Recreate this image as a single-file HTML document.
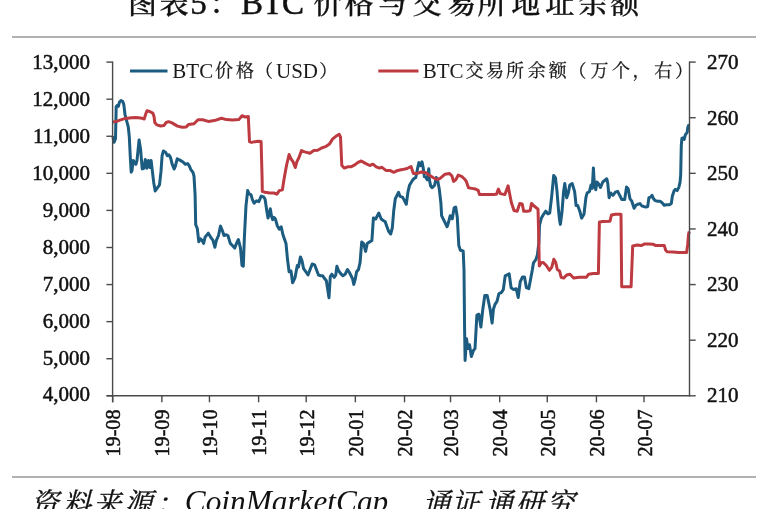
<!DOCTYPE html>
<html><head><meta charset="utf-8"><title>图表5：BTC价格与交易所地址余额</title>
<style>
html,body{margin:0;padding:0;background:#fff;}
body{width:769px;height:509px;overflow:hidden;position:relative;}
svg{position:absolute;left:0;top:0;}
</style></head><body>
<svg width="769" height="509" viewBox="0 0 769 509">
<rect x="0" y="0" width="769" height="509" fill="#ffffff"/>
<text font-size="33" fill="#111" stroke="#111" stroke-width="0.3">
<tspan x="128.0" y="13.8" font-family="Liberation Serif, Noto Serif CJK SC, serif" font-size="29" font-weight="500">图</tspan>
<tspan x="159.5" y="13.8" font-family="Liberation Serif, Noto Serif CJK SC, serif" font-size="29" font-weight="500">表</tspan>
<tspan x="190.2" y="13.5" font-family="Liberation Serif, serif" stroke-width="0.5">5</tspan>
<tspan x="209.4" y="13.8" font-family="Liberation Serif, Noto Serif CJK SC, serif" font-size="29" font-weight="500">：</tspan>
<tspan x="241.1" y="13.5" font-family="Liberation Serif, serif" stroke-width="0.5">B</tspan>
<tspan x="262.6" y="13.5" font-family="Liberation Serif, serif" stroke-width="0.5">T</tspan>
<tspan x="282.1" y="13.5" font-family="Liberation Serif, serif" stroke-width="0.5">C</tspan>
<tspan x="313.6" y="13.8" font-family="Liberation Serif, Noto Serif CJK SC, serif" font-size="29" font-weight="500">价</tspan>
<tspan x="344.6" y="13.8" font-family="Liberation Serif, Noto Serif CJK SC, serif" font-size="29" font-weight="500">格</tspan>
<tspan x="378.5" y="13.8" font-family="Liberation Serif, Noto Serif CJK SC, serif" font-size="29" font-weight="500">与</tspan>
<tspan x="412.6" y="13.8" font-family="Liberation Serif, Noto Serif CJK SC, serif" font-size="29" font-weight="500">交</tspan>
<tspan x="447.2" y="13.8" font-family="Liberation Serif, Noto Serif CJK SC, serif" font-size="29" font-weight="500">易</tspan>
<tspan x="477.5" y="13.8" font-family="Liberation Serif, Noto Serif CJK SC, serif" font-size="29" font-weight="500">所</tspan>
<tspan x="511.3" y="13.8" font-family="Liberation Serif, Noto Serif CJK SC, serif" font-size="29" font-weight="500">地</tspan>
<tspan x="545.2" y="13.8" font-family="Liberation Serif, Noto Serif CJK SC, serif" font-size="29" font-weight="500">址</tspan>
<tspan x="578.5" y="13.8" font-family="Liberation Serif, Noto Serif CJK SC, serif" font-size="29" font-weight="500">余</tspan>
<tspan x="610.2" y="13.8" font-family="Liberation Serif, Noto Serif CJK SC, serif" font-size="29" font-weight="500">额</tspan>
</text>
<line x1="12" y1="37" x2="756" y2="37" stroke="#b0b0b0" stroke-width="2"/>
<line x1="12" y1="477" x2="756" y2="477" stroke="#b0b0b0" stroke-width="2"/>
<polyline points="112.8,136 114,142.3 115.5,138.7 116.2,106.5 117.4,105.3 118.4,106.3 119.5,102 121,100.5 122.6,101.3 123.8,104.4 125,114.6 126.1,118.6 127.3,123.3 128.3,127 129.3,137 130.4,158.8 131.2,172.2 132,170.6 133.2,160.4 134.3,162 135.9,164.3 137,160.4 139.1,140 140.6,149.4 142.2,169 143.8,168.3 145.3,159.6 146.9,168.3 148.5,160.4 150,167.5 151.1,160.4 152.4,171.4 153.7,182.4 155.2,191 156.8,188.7 159.5,184.8 161,171.4 162.1,155.7 163.4,151 165.8,152.6 167.3,155.7 168.9,154.9 170.5,157.3 172,163.6 174.1,169 175.2,166.7 177.2,158.8 179.9,160.1 183,162 185.4,164.3 187.7,163.6 189.3,165.9 190.9,169.8 192.9,172.2 194,176.1 195.1,195 195.7,224.6 197.3,228.5 198.8,241.8 200.4,238.7 202,240.3 203.6,243.4 205.1,237.1 208.3,233.2 210.6,237.1 213,240.3 214.9,247.3 216.4,240.3 218.5,235.5 220.5,226.1 222.4,230.8 224,235.5 226.3,234.8 227.9,235.5 230.3,243.4 232.6,245.8 234.7,248.1 236.5,243.4 238.4,239.5 240.5,248.1 242,265.4 243.3,266.2 244.4,237.1 246,205.7 247.7,190.5 249.2,194 251,194.6 252.3,199.3 254.1,203.2 256.5,200.8 258.8,201.6 261.2,196.1 263.6,196.9 265.1,199.3 266.7,210.3 268,218.1 269.1,214.2 270.3,208.7 271.4,215.8 272.7,219.7 273.8,217.3 275.3,218.9 277.4,226 279.3,229.1 281.2,226.8 282.7,233.8 283.8,237.3 286,243.6 287.5,259.3 289.1,271.8 291,271 292.6,282.8 294.9,278.1 297.3,265.5 298.5,267.1 300.4,256.9 302,260.8 303.6,268.7 305.9,271.8 308,275 309.8,270.3 312.2,264 314.6,264.8 316.1,268.7 318.5,275 320.8,275.8 322.7,275.8 324.8,278.9 326.3,280.5 327.9,290.7 329,297.7 330.3,276.5 331.8,274.2 334.2,277.3 335.8,275 336.9,266.3 338.4,270.3 340.5,273.4 342.8,275.8 345.2,274.2 347.5,269.5 349.1,271.8 350.7,275 352.6,278.9 353.8,284.4 355.1,279.7 356.6,271.8 358.5,269.5 360.1,262.4 361.7,242 363.6,243.6 365.6,251.4 367.2,243.6 369.5,242 371.9,240.4 373.4,218 375.7,219 378.8,213 381.2,219 383.6,220.7 385.1,221.5 386.7,226 388.5,231 390.7,234 392.3,228 393.8,210 395.3,198.7 398.5,192.4 400,196.3 402.4,197.1 404.3,200.3 406.3,204.2 407.9,192.4 409.5,185.3 411.8,181.4 413.4,179.1 415.8,177.5 417.8,167.3 418.9,162.6 420.5,165.7 422,161.8 423.1,167.3 424.4,176.7 426,177.5 427.2,179.8 428.8,168.8 429.4,179.8 430.7,186.1 432.2,187.7 434.6,185.3 436.2,177.5 437.7,180.6 439.3,189.3 440.9,203 441.6,215.7 443.9,220.4 447.1,226.7 448.6,222 450.2,215.7 452.3,218.8 454.1,207.9 455.7,207.1 457.3,217.3 458.8,245.5 460.4,250.3 463.2,251 464,270 464.6,328.9 465.1,360.4 466.5,338.8 467.9,348.6 469.5,344.7 471.4,356.4 473.4,350.5 475,348.6 476.9,315.2 478.9,314.2 480.9,327 482.8,309.3 484.8,295.5 487.2,295.5 490.1,309.3 492.1,323 493.4,309.3 495,304.4 497,301.4 498.9,293.6 501.3,292.6 503.3,289.6 505.2,275.9 507.2,274.9 509.2,273.9 511.1,287.7 513.7,289.6 516.2,288.7 518.2,297.5 520.2,281.8 522.5,276.9 524.5,276.9 526.4,287.7 528.8,288.7 530.8,277.9 532.3,270 533.5,262.8 535.8,259.7 537.4,255 538.9,242.4 539.5,225 541.3,218.3 543.9,213.8 545.8,211.2 547.8,213.8 549.7,213.1 551.7,196.2 553.7,175.5 555.5,178 557,191.4 558.5,210 559.5,219.6 560.4,224.4 562,211.8 563.6,191.4 564.8,183.6 566.7,197.7 568.3,193 569.8,185.1 572.2,183.6 574.6,191.4 576.1,205.5 577.7,205.5 580,211.8 581.6,218.1 584,214.2 585.9,197.7 587.1,193 589.5,191.4 591,185.1 592.3,188.3 593.4,167.9 594.2,182 595.8,189.8 596.9,182 598.9,184.3 600.5,187.5 602.8,182 604.7,180.4 606.8,178.8 607.8,183.6 609.1,197.7 610.7,193 613,195.3 615.4,192.2 617.7,191.4 620.1,196.1 621.8,199.5 624.7,199.5 626.5,187.1 628.2,188.9 630,198.9 631.8,201.2 634.1,208.3 635.9,205.3 637.7,204.2 640,203.6 641.8,205.9 643.6,206.5 645.9,207.1 647.7,206.5 648.9,197.7 650.6,197.1 652,195.3 653.6,198.9 655.3,200.6 657.7,201.2 660.1,201.2 661.8,202.4 664.2,205.3 666.5,204.8 669.5,204.8 671.3,203.6 672.4,195.9 674.2,190.6 675.4,189.4 677.1,190.6 678.9,187.1 680.1,181.8 680.7,174.7 681.3,145.3 681.9,138.3 683,137.7 684.2,139.5 685.4,134.7 687.2,132.4 687.7,127.7 688.6,125.3 689.3,124.7" fill="none" stroke="#1b5c80" stroke-width="3" stroke-linejoin="round" stroke-linecap="butt"/>
<polyline points="113,122.1 116.7,121.3 119.9,120.1 124.6,118.6 127.7,118.2 131.6,117.8 135.6,117.4 138.7,117.8 141.9,118.2 144.2,119 145.8,113.9 147,110.7 149.7,111.5 152.8,113.1 154,116.2 154.8,122.5 156.8,124.9 160.7,126 163.8,125.6 166.2,122.5 168.6,121.7 172,122.9 177.5,126.1 182.2,127.2 186.2,126.9 188.5,124.6 194,123.8 198,119.8 202.7,119.8 208.2,121.4 214.4,120.6 221.5,118.3 226.3,119.6 232.6,120.1 238.8,119.6 242,115.7 245.1,117 248.3,116.5 249.5,141.6 251.4,142.4 257.7,141.2 261.1,141.6 262.1,178.5 262.3,191.4 265.1,192.2 269.8,193 273.8,193 276.9,194.2 279.3,190.6 282.4,189.8 283.9,180 286.5,165.5 289.1,154.5 291.1,159 293,161.6 295.3,167.5 296.9,161.6 298.9,157.7 301.5,150.6 304.7,151.9 309.9,153.2 313.8,150.6 317.7,150.2 321.6,148 325.5,146.7 329.4,144.1 332.7,138.9 335.9,136.3 339.2,134.3 340.5,136.9 341.8,165.5 344.4,168.1 347.6,166.8 350.9,166.8 354.8,164.9 358,162.3 361.3,161 364.5,162.9 369.7,165.5 373,164.2 376.2,166.8 379.5,168.1 382,167.3 385.9,170.4 389.8,170.4 393.8,172.3 397.7,170.4 402.4,169.6 407.1,168.5 411,166.5 413.4,173.6 416.5,173.6 421.3,172 426,172.8 429.1,175.1 433.8,178 437,179.5 440.1,178.3 444.8,174.3 449.5,173.6 451.9,175.9 453.5,181.4 455.8,179.8 458.2,175.1 462.1,176.7 465.2,179.8 466.5,181.9 468.5,187.8 471.7,188.4 475.6,189.1 478.2,190.4 479.5,194.6 486,194.6 492.5,194.6 496.4,194.3 498.4,189.1 500.3,193.6 504.9,194.6 508.1,185.8 510.1,196.2 511.4,202.7 514,210.5 517.2,211.2 519.8,203.4 522.2,204 523.7,211.2 527.6,211.2 530.2,210.5 531.5,203.4 534.1,206 538,209.2 538.6,231.4 539.3,266 541.3,262.8 543.1,262.4 546.3,265.5 549.4,270.3 551.8,267.1 553.8,259.3 555.7,262.4 557.3,269.5 559.6,271 561.2,277.3 563.6,278.1 566.7,275 569.8,274.2 572.2,276.5 573.8,278.1 579.3,277.3 586.3,277.3 588.7,274.2 593.4,273.4 598.4,273.4 599.4,222 602.8,221.6 609.9,221.3 611.5,215 615.4,214.2 620.1,214.2 621,214.5 621.7,286.8 626.4,286.8 631.1,286.8 632.7,245.9 637.4,245.1 641.2,245.6 644.7,243.9 648.3,243.9 653,244.2 655.3,245.4 660.1,245.4 664.2,245.4 665.7,250.3 667.1,251.8 673,252.1 678.9,252.5 686.6,252.5 687.7,244.5 688.6,233.9 689.3,231.5" fill="none" stroke="#bd3a40" stroke-width="3" stroke-linejoin="round" stroke-linecap="butt"/>
<g stroke="#4a4a4a" stroke-width="1.4" fill="none">
<line x1="112.6" y1="61.6" x2="112.6" y2="402.3"/>
<line x1="689.5" y1="61.6" x2="689.5" y2="396.3"/>
<line x1="106.6" y1="395.8" x2="690.1" y2="395.8"/>
<line x1="106.39999999999999" y1="62.10" x2="112.6" y2="62.10"/>
<line x1="106.39999999999999" y1="99.18" x2="112.6" y2="99.18"/>
<line x1="106.39999999999999" y1="136.26" x2="112.6" y2="136.26"/>
<line x1="106.39999999999999" y1="173.33" x2="112.6" y2="173.33"/>
<line x1="106.39999999999999" y1="210.41" x2="112.6" y2="210.41"/>
<line x1="106.39999999999999" y1="247.49" x2="112.6" y2="247.49"/>
<line x1="106.39999999999999" y1="284.57" x2="112.6" y2="284.57"/>
<line x1="106.39999999999999" y1="321.64" x2="112.6" y2="321.64"/>
<line x1="106.39999999999999" y1="358.72" x2="112.6" y2="358.72"/>
<line x1="106.39999999999999" y1="395.80" x2="112.6" y2="395.80"/>
<line x1="689.5" y1="62.10" x2="695.7" y2="62.10"/>
<line x1="689.5" y1="117.72" x2="695.7" y2="117.72"/>
<line x1="689.5" y1="173.33" x2="695.7" y2="173.33"/>
<line x1="689.5" y1="228.95" x2="695.7" y2="228.95"/>
<line x1="689.5" y1="284.57" x2="695.7" y2="284.57"/>
<line x1="689.5" y1="340.18" x2="695.7" y2="340.18"/>
<line x1="689.5" y1="395.80" x2="695.7" y2="395.80"/>
<line x1="112.70" y1="395.8" x2="112.70" y2="402.3"/>
<line x1="161.87" y1="395.8" x2="161.87" y2="402.3"/>
<line x1="209.45" y1="395.8" x2="209.45" y2="402.3"/>
<line x1="258.61" y1="395.8" x2="258.61" y2="402.3"/>
<line x1="306.19" y1="395.8" x2="306.19" y2="402.3"/>
<line x1="355.36" y1="395.8" x2="355.36" y2="402.3"/>
<line x1="404.52" y1="395.8" x2="404.52" y2="402.3"/>
<line x1="450.52" y1="395.8" x2="450.52" y2="402.3"/>
<line x1="499.68" y1="395.8" x2="499.68" y2="402.3"/>
<line x1="547.26" y1="395.8" x2="547.26" y2="402.3"/>
<line x1="596.43" y1="395.8" x2="596.43" y2="402.3"/>
<line x1="644.01" y1="395.8" x2="644.01" y2="402.3"/>
</g>
<g font-family="Liberation Serif, serif" font-size="21" fill="#111" stroke="#111" stroke-width="0.5" text-anchor="end">
<text x="90" y="69.00">13,000</text>
<text x="90" y="105.94">12,000</text>
<text x="90" y="142.88">11,000</text>
<text x="90" y="179.82">10,000</text>
<text x="90" y="216.76">9,000</text>
<text x="90" y="253.70">8,000</text>
<text x="90" y="290.64">7,000</text>
<text x="90" y="327.58">6,000</text>
<text x="90" y="364.52">5,000</text>
<text x="90" y="401.46">4,000</text>
</g>
<g font-family="Liberation Serif, serif" font-size="21" fill="#111" stroke="#111" stroke-width="0.5" text-anchor="start">
<text x="707" y="69.00">270</text>
<text x="707" y="124.50">260</text>
<text x="707" y="180.00">250</text>
<text x="707" y="235.50">240</text>
<text x="707" y="291.00">230</text>
<text x="707" y="346.50">220</text>
<text x="707" y="402.00">210</text>
</g>
<g font-family="Liberation Serif, serif" font-size="21" fill="#111" stroke="#111" stroke-width="0.5" text-anchor="end">
<text transform="translate(120.30,409.5) rotate(-90) scale(0.96,1)">19-08</text>
<text transform="translate(169.47,409.5) rotate(-90) scale(0.96,1)">19-09</text>
<text transform="translate(217.05,409.5) rotate(-90) scale(0.96,1)">19-10</text>
<text transform="translate(266.21,409.5) rotate(-90) scale(0.96,1)">19-11</text>
<text transform="translate(313.79,409.5) rotate(-90) scale(0.96,1)">19-12</text>
<text transform="translate(362.96,409.5) rotate(-90) scale(0.96,1)">20-01</text>
<text transform="translate(412.12,409.5) rotate(-90) scale(0.96,1)">20-02</text>
<text transform="translate(458.12,409.5) rotate(-90) scale(0.96,1)">20-03</text>
<text transform="translate(507.28,409.5) rotate(-90) scale(0.96,1)">20-04</text>
<text transform="translate(554.86,409.5) rotate(-90) scale(0.96,1)">20-05</text>
<text transform="translate(604.03,409.5) rotate(-90) scale(0.96,1)">20-06</text>
<text transform="translate(651.61,409.5) rotate(-90) scale(0.96,1)">20-07</text>
</g>
<line x1="130" y1="71" x2="167.5" y2="71" stroke="#1b5c80" stroke-width="3"/>
<line x1="378.3" y1="71" x2="418.5" y2="71" stroke="#bd3a40" stroke-width="3"/>
<text font-size="21" fill="#1a1a1a"><tspan x="172.3" y="77.6" font-family="Liberation Serif, serif">BTC</tspan><tspan x="215.0" y="77.0" font-family="Liberation Serif, Noto Serif CJK SC, serif" font-size="18" stroke="#1a1a1a" stroke-width="0.25">价</tspan><tspan x="235.9" y="77.0" font-family="Liberation Serif, Noto Serif CJK SC, serif" font-size="18" stroke="#1a1a1a" stroke-width="0.25">格</tspan><tspan x="255.1" y="77.0" font-family="Liberation Serif, Noto Serif CJK SC, serif" font-size="18" stroke="#1a1a1a" stroke-width="0.25">（</tspan><tspan x="276.0" y="77.6" font-family="Liberation Serif, serif">USD</tspan><tspan x="319.3" y="77.0" font-family="Liberation Serif, Noto Serif CJK SC, serif" font-size="18" stroke="#1a1a1a" stroke-width="0.25">）</tspan></text>
<text font-size="21" fill="#1a1a1a"><tspan x="422.7" y="77.6" font-family="Liberation Serif, serif">BTC</tspan><tspan x="465.6" y="77.0" font-family="Liberation Serif, Noto Serif CJK SC, serif" font-size="18" stroke="#1a1a1a" stroke-width="0.25">交</tspan><tspan x="485.9" y="77.0" font-family="Liberation Serif, Noto Serif CJK SC, serif" font-size="18" stroke="#1a1a1a" stroke-width="0.25">易</tspan><tspan x="506.1" y="77.0" font-family="Liberation Serif, Noto Serif CJK SC, serif" font-size="18" stroke="#1a1a1a" stroke-width="0.25">所</tspan><tspan x="527.7" y="77.0" font-family="Liberation Serif, Noto Serif CJK SC, serif" font-size="18" stroke="#1a1a1a" stroke-width="0.25">余</tspan><tspan x="548.8" y="77.0" font-family="Liberation Serif, Noto Serif CJK SC, serif" font-size="18" stroke="#1a1a1a" stroke-width="0.25">额</tspan><tspan x="568.6" y="77.0" font-family="Liberation Serif, Noto Serif CJK SC, serif" font-size="18" stroke="#1a1a1a" stroke-width="0.25">（</tspan><tspan x="590.5" y="77.0" font-family="Liberation Serif, Noto Serif CJK SC, serif" font-size="18" stroke="#1a1a1a" stroke-width="0.25">万</tspan><tspan x="612.1" y="77.0" font-family="Liberation Serif, Noto Serif CJK SC, serif" font-size="18" stroke="#1a1a1a" stroke-width="0.25">个</tspan><tspan x="632.4" y="77.0" font-family="Liberation Serif, Noto Serif CJK SC, serif" font-size="18" stroke="#1a1a1a" stroke-width="0.25">，</tspan><tspan x="654.2" y="77.0" font-family="Liberation Serif, Noto Serif CJK SC, serif" font-size="18" stroke="#1a1a1a" stroke-width="0.25">右</tspan><tspan x="675.0" y="77.0" font-family="Liberation Serif, Noto Serif CJK SC, serif" font-size="18" stroke="#1a1a1a" stroke-width="0.25">）</tspan></text>
<text font-size="31.3" font-style="italic" fill="#111"><tspan x="30.7" y="513.1" font-family="Liberation Serif, Noto Serif CJK SC, serif" font-size="28" stroke="#111" stroke-width="0.35">资</tspan><tspan x="63.0" y="513.1" font-family="Liberation Serif, Noto Serif CJK SC, serif" font-size="28" stroke="#111" stroke-width="0.35">料</tspan><tspan x="93.2" y="513.1" font-family="Liberation Serif, Noto Serif CJK SC, serif" font-size="28" stroke="#111" stroke-width="0.35">来</tspan><tspan x="124.5" y="513.1" font-family="Liberation Serif, Noto Serif CJK SC, serif" font-size="28" stroke="#111" stroke-width="0.35">源</tspan><tspan x="155.8" y="513.1" font-family="Liberation Serif, Noto Serif CJK SC, serif" font-size="28" stroke="#111" stroke-width="0.35">：</tspan><tspan x="184.8" y="512.1" font-family="Liberation Serif, serif">CoinMarketCap</tspan><tspan x="392" y="513.1" font-family="Liberation Serif, Noto Serif CJK SC, serif" font-size="28">，</tspan><tspan x="422.5" y="513.1" font-family="Liberation Serif, Noto Serif CJK SC, serif" font-size="28" stroke="#111" stroke-width="0.35">通</tspan><tspan x="451.6" y="513.1" font-family="Liberation Serif, Noto Serif CJK SC, serif" font-size="28" stroke="#111" stroke-width="0.35">证</tspan><tspan x="484.9" y="513.1" font-family="Liberation Serif, Noto Serif CJK SC, serif" font-size="28" stroke="#111" stroke-width="0.35">通</tspan><tspan x="515.8" y="513.1" font-family="Liberation Serif, Noto Serif CJK SC, serif" font-size="28" stroke="#111" stroke-width="0.35">研</tspan><tspan x="546.7" y="513.1" font-family="Liberation Serif, Noto Serif CJK SC, serif" font-size="28" stroke="#111" stroke-width="0.35">究</tspan></text>
</svg></body></html>
